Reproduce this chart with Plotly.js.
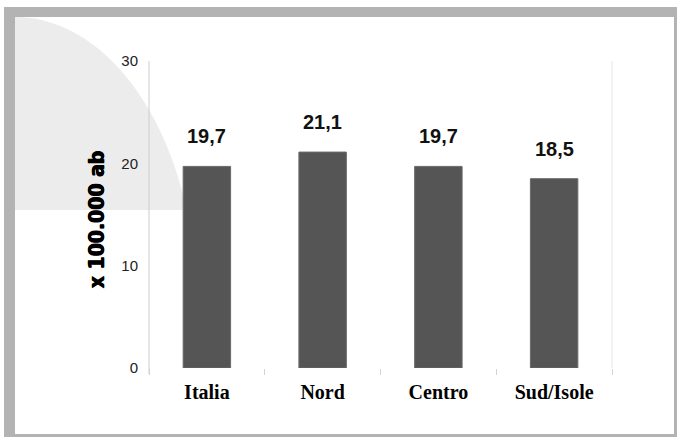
<!DOCTYPE html>
<html>
<head>
<meta charset="utf-8">
<script src="https://cdn.plot.ly/plotly-3.0.1.min.js"></script>
<style>
  html, body { margin: 0; padding: 0; background: #ffffff; }
  #wrap { position: relative; width: 677px; height: 437px; overflow: hidden; }
  #bg { position: absolute; left: 0; top: 0; }
  #chart { position: absolute; left: 0; top: 0; width: 677px; height: 437px; }
</style>
</head>
<body>
<div id="wrap">
  <!-- gray frame and soft decorative curve behind the chart -->
  <svg id="bg" width="677" height="437" xmlns="http://www.w3.org/2000/svg">
    <defs>
      <clipPath id="topband"><rect x="15" y="17" width="659" height="193"/></clipPath>
    </defs>
    <rect x="4" y="7" width="673" height="430" fill="#b3b3b3"/>
    <rect x="15" y="17" width="659" height="417" fill="#ffffff"/>
    <ellipse cx="15" cy="300" rx="181" ry="283" fill="#ececec" clip-path="url(#topband)"/>
  </svg>
  <div id="chart"></div>
</div>
<script>
// Tassi per area geografica (x 100.000 abitanti)
const categories = ["Italia", "Nord", "Centro", "Sud/Isole"];
const values = [19.7, 21.1, 19.7, 18.5];
const valueLabels = ["19,7", "21,1", "19,7", "18,5"];
const yTicks = [0, 10, 20, 30];
const yTitle = "x 100.000 ab";

const trace = {
  type: "bar",
  x: categories,
  y: values,
  width: 0.41,
  marker: { color: "#555555", line: { color: "#6a6a6a", width: 1 } },
  hoverinfo: "skip"
};

const annotations = categories.map((c, i) => ({
  x: c, y: values[i], xref: "x", yref: "y",
  text: valueLabels[i], showarrow: false,
  yanchor: "bottom", yshift: 17,
  font: { family: "Liberation Sans, Arial, sans-serif", size: 20, weight: "bold", color: "#111111" }
}));

// rotated axis caption in a heavy condensed face
annotations.push({
  xref: "paper", yref: "paper", x: -0.112, y: 0.485,
  text: yTitle, showarrow: false, textangle: -90,
  xanchor: "center", yanchor: "middle",
  font: {
    family: "DejaVu Sans Condensed, DejaVu Sans, sans-serif", size: 21, weight: "bold", color: "#000000",
    shadow: "0.5px 0 0 #000, -0.5px 0 0 #000"
  }
});

const layout = {
  width: 677, height: 437,
  margin: { l: 149, r: 65, t: 61, b: 69 },
  paper_bgcolor: "rgba(0,0,0,0)",
  plot_bgcolor: "rgba(0,0,0,0)",
  showlegend: false,
  xaxis: {
    type: "category",
    tickson: "boundaries",
    ticks: "outside", ticklen: 6, tickcolor: "#d4d4d4", tickwidth: 1,
    showline: false, showgrid: false, zeroline: false,
    tickfont: { family: "Liberation Serif, Times New Roman, serif", size: 20, weight: "bold", color: "#000000" },
    ticklabelstandoff: 10
  },
  yaxis: {
    range: [0, 30],
    tickmode: "array", tickvals: yTicks, ticktext: yTicks.map(String),
    ticks: "", showgrid: false, zeroline: false, showline: false,
    tickfont: { family: "Liberation Sans, Arial, sans-serif", size: 15, color: "#222222" },
    ticklabelstandoff: 10
  },
  shapes: [
    { type: "line", xref: "paper", yref: "paper", x0: 0, x1: 0, y0: -0.0195, y1: 1,
      line: { color: "#cccccc", width: 1 }, layer: "above" },
    { type: "line", xref: "paper", yref: "paper", x0: 1, x1: 1, y0: 0, y1: 1,
      line: { color: "#e6e6e6", width: 1 }, layer: "below" }
  ],
  annotations: annotations
};

Plotly.newPlot("chart", [trace], layout, { displayModeBar: false, staticPlot: true });
</script>
</body>
</html>
